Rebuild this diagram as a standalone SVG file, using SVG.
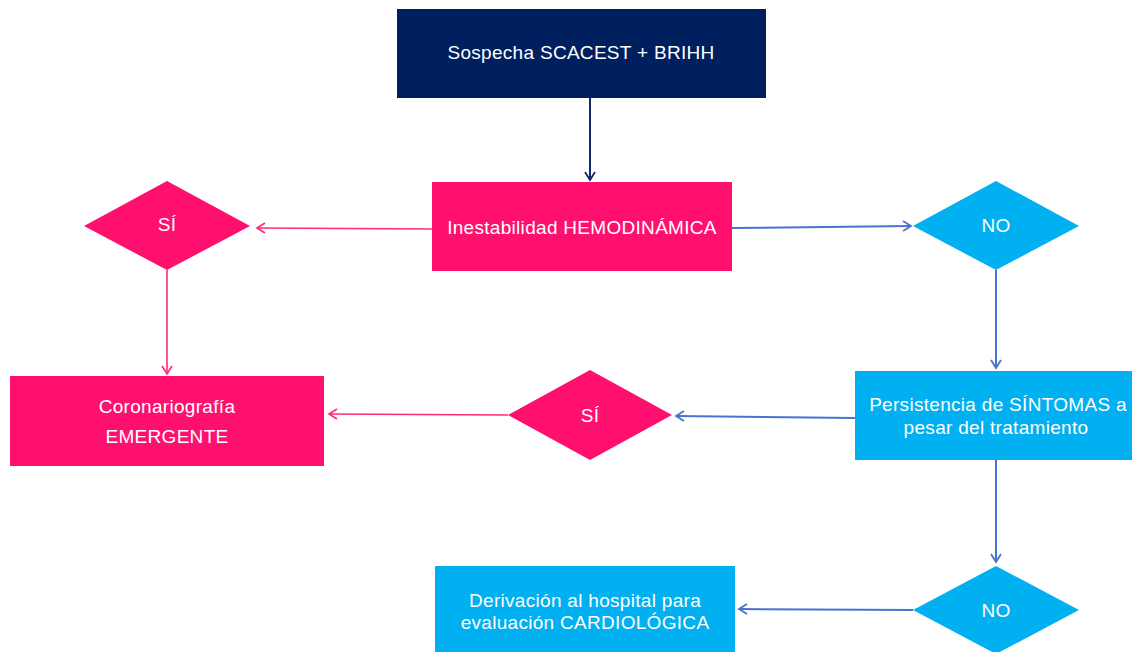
<svg xmlns="http://www.w3.org/2000/svg" width="1132" height="652" viewBox="0 0 1132 652">
<defs>
<style>
.t{font-family:"Liberation Sans",Arial,sans-serif;font-size:19px;letter-spacing:0.3px;fill:#fff;text-anchor:middle}
.navy{fill:#001f5f}
.pink{fill:#ff0f6e}
.cyan{fill:#00b0f0}
.cp{stroke:#ff2a78;stroke-width:1.6;fill:none}
.cb{stroke:#4a72d0;stroke-width:2;fill:none}
.cn{stroke:#0e2a6e;stroke-width:2;fill:none}
</style>
<marker id="ap" markerWidth="12" markerHeight="12" refX="10" refY="6" orient="auto" markerUnits="userSpaceOnUse"><path d="M2,1 L10,6 L2,11" fill="none" stroke="#ff2a78" stroke-width="1.6"/></marker>
<marker id="ab" markerWidth="12" markerHeight="12" refX="10" refY="6" orient="auto" markerUnits="userSpaceOnUse"><path d="M2,1 L10,6 L2,11" fill="none" stroke="#4a72d0" stroke-width="1.8"/></marker>
<marker id="an" markerWidth="12" markerHeight="12" refX="10" refY="6" orient="auto" markerUnits="userSpaceOnUse"><path d="M2,1 L10,6 L2,11" fill="none" stroke="#0e2a6e" stroke-width="1.8"/></marker>
</defs>
<rect width="1132" height="652" fill="#fff"/>
<g id="connectors">
<path class="cn" d="M590,98 L590,180" marker-end="url(#an)"/>
<path class="cp" d="M432,229 L257,228" marker-end="url(#ap)"/>
<path class="cb" d="M732,228 L911,226" marker-end="url(#ab)"/>
<path class="cb" d="M996,270 L996,368" marker-end="url(#ab)"/>
<path class="cp" d="M167,270 L167,374" marker-end="url(#ap)"/>
<path class="cb" d="M855,418 L676,416" marker-end="url(#ab)"/>
<path class="cp" d="M508,415 L329,414" marker-end="url(#ap)"/>
<path class="cb" d="M996,460 L996,562" marker-end="url(#ab)"/>
<path class="cb" d="M913,610 L739,609" marker-end="url(#ab)"/>
</g>
<g id="n-sospecha"><rect class="navy" x="397" y="9" width="369" height="89"/><text class="t" x="581" y="59">Sospecha SCACEST + BRIHH</text></g>
<g id="n-inestabilidad"><rect class="pink" x="432" y="182" width="300" height="89"/><text class="t" x="582" y="234">Inestabilidad HEMODINÁMICA</text></g>
<g id="n-si1"><polygon class="pink" points="84,226 167,181 250,226 167,270"/><text class="t" x="167" y="231">SÍ</text></g>
<g id="n-no1"><polygon class="cyan" points="913,226 996,181 1079,226 996,270"/><text class="t" x="996" y="232">NO</text></g>
<g id="n-persistencia"><rect class="cyan" x="855" y="371" width="280" height="89"/><text class="t" x="998" y="411">Persistencia de SÍNTOMAS a</text><text class="t" x="996" y="434">pesar del tratamiento</text></g>
<g id="n-si2"><polygon class="pink" points="508,415 590,370 672,415 590,460"/><text class="t" x="590" y="422">SÍ</text></g>
<g id="n-coronariografia"><rect class="pink" x="10" y="376" width="314" height="90"/><text class="t" x="167" y="413">Coronariografía</text><text class="t" x="167" y="443">EMERGENTE</text></g>
<g id="n-no2"><polygon class="cyan" points="913,610 996,566 1079,610 996,654"/><text class="t" x="996" y="617">NO</text></g>
<g id="n-derivacion"><rect class="cyan" x="435" y="566" width="300" height="90"/><text class="t" x="585" y="607">Derivación al hospital para</text><text class="t" x="585" y="629">evaluación CARDIOLÓGICA</text></g>
</svg>
